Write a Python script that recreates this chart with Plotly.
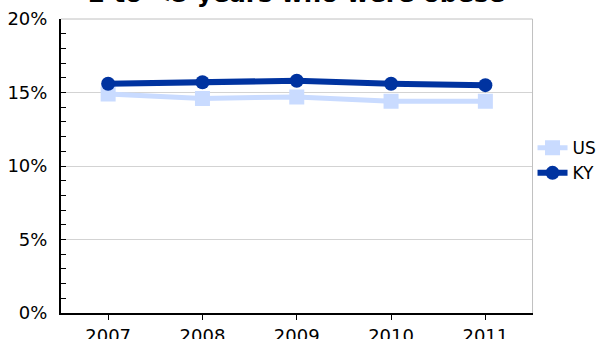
import plotly.graph_objects as go

years = ["2007", "2008", "2009", "2010", "2011"]
us_vals = [14.9, 14.6, 14.7, 14.4, 14.4]
ky_vals = [15.6, 15.7, 15.8, 15.6, 15.5]
y_ticks = [0, 5, 10, 15, 20]
title_text = "2 to <5 years who were obese"

fig = go.Figure()
fig.add_trace(go.Scatter(x=years, y=us_vals, name="US", mode="lines+markers",
                         line=dict(color="#c9dbff", width=5),
                         marker=dict(symbol="square", size=15, color="#c9dbff")))
fig.add_trace(go.Scatter(x=years, y=ky_vals, name="KY", mode="lines+markers",
                         line=dict(color="#0033a0", width=6),
                         marker=dict(symbol="circle", size=14, color="#0033a0")))

fig.update_layout(
    width=597, height=339,
    margin=dict(l=61, r=64, t=19, b=26),
    paper_bgcolor="white", plot_bgcolor="white",
    font=dict(family="DejaVu Sans", size=18, color="black"),
    showlegend=True,
    legend=dict(xref="container", yref="container", x=0.892, y=0.526,
                xanchor="left", yanchor="middle",
                font=dict(size=17), tracegroupgap=0, itemwidth=30),
    annotations=[dict(text="<b>" + title_text + "</b>", xref="paper", yref="paper",
                      x=0.5, y=1.0, xanchor="center", yanchor="bottom", yshift=9,
                      showarrow=False, font=dict(size=24.5, color="black"))],
)
fig.update_xaxes(type="category", range=[-0.5, 4.5], showline=True, linecolor="black",
                 linewidth=2, mirror=False, ticks="outside", ticklen=5, tickcolor="black",
                 showgrid=False, fixedrange=True, automargin=False)
fig.update_yaxes(range=[0, 20], tickvals=y_ticks, ticktext=[f"{v}%" for v in y_ticks],
                 showline=True, linecolor="black", linewidth=2, ticks="inside", ticklen=5,
                 tickcolor="black", showgrid=True, gridcolor="#d3d3d3", gridwidth=1,
                 minor=dict(dtick=1, ticks="inside", ticklen=5, tickcolor="black", showgrid=False),
                 zeroline=False, automargin=False, ticklabelstandoff=8, fixedrange=True)
# gray top/right borders
fig.add_shape(type="line", xref="paper", yref="paper", x0=0, x1=1, y0=1, y1=1,
              line=dict(color="#c0c0c0", width=1))
fig.add_shape(type="line", xref="paper", yref="paper", x0=1, x1=1, y0=0, y1=1,
              line=dict(color="#c0c0c0", width=1))

fig.write_html("out.html", config={"displayModeBar": False},
               post_script="document.body.style.margin='0';")
